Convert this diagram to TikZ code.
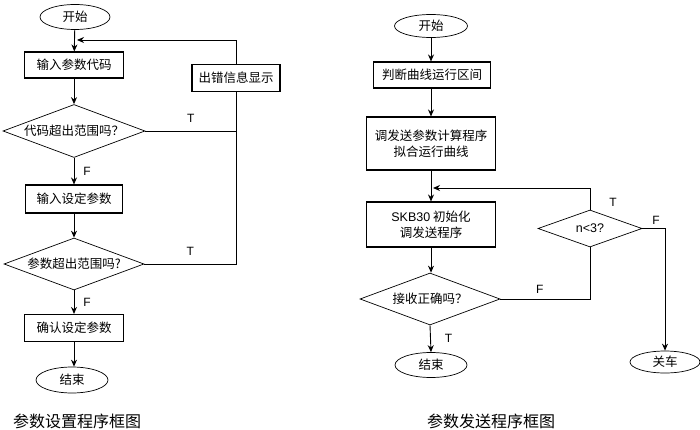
\documentclass[tikz,border=0pt]{standalone}
\usepackage{fontspec}
\setmainfont{Noto Sans CJK SC}
\newfontfamily\lat{Liberation Sans}
\usetikzlibrary{shapes.geometric,arrows.meta}
\begin{document}
\begin{tikzpicture}[x=1pt,y=-1pt,
  line width=0.9pt,
  every node/.style={font=\fontsize{12.5}{16}\selectfont, inner sep=0pt, align=center},
  term/.style={draw, ellipse, line width=0.7pt},
  procbox/.style={draw, rectangle, line width=1.1pt},
  decision/.style={draw, diamond, line width=0.7pt, inner sep=-3pt},
  arr/.style={-{Stealth[length=7pt,width=6pt]}},
  lbl/.style={font=\lat\fontsize{12}{14}\selectfont},
  captext/.style={font=\fontsize{16}{18}\selectfont}
]
\useasboundingbox (0,0) rectangle (700,430);
\fill[white] (0,0) rectangle (700,430);

% ---------- left chart ----------
\node[term, minimum width=70pt, minimum height=25pt] (s1) at (75,17) {开始};
\node[procbox, minimum width=99pt, minimum height=26pt] (b1) at (74,65) {输入参数代码};
\node[decision, aspect=2.68, minimum width=142pt, minimum height=53pt] (d1) at (74,131) {代码超出范围吗？};
\node[procbox, minimum width=97pt, minimum height=28pt] (b2) at (74,199) {输入设定参数};
\node[decision, aspect=2.68, minimum width=140pt, minimum height=52pt] (d2) at (74,264) {参数超出范围吗?};
\node[procbox, minimum width=99pt, minimum height=27pt] (b3) at (74,328) {确认设定参数};
\node[term, minimum width=72pt, minimum height=26pt] (e1) at (72,380) {结束};
\node[procbox, minimum width=88pt, minimum height=27pt] (err) at (236,78) {出错信息显示};

\coordinate (j1) at (77,40);
\coordinate (c1) at (236,131);
\coordinate (c2) at (236,264);

\draw[arr] (s1) -- (b1);
\draw[arr] (err.north) |- (j1);
\draw[arr] (b1) -- (d1);
\draw (d1.east) -- node[lbl, above=8pt, pos=0.5] {T} (c1);
\draw (err.south) -- (c2) -- node[lbl, above=8pt, pos=0.5] {T} (d2.east);
\draw[arr] (d1.south) -- node[lbl, right=9pt] {F} (b2.north);
\draw[arr] (b2) -- (d2);
\draw[arr] (d2.south) -- node[lbl, right=9pt] {F} (b3.north);
\draw[arr] (b3.south) -- (b3.south |- e1.north);

\node[captext] (cap1) at (77,421) {参数设置程序框图};

% ---------- right chart ----------
\node[term, minimum width=73pt, minimum height=23pt] (s2) at (431,26) {开始};
\node[procbox, minimum width=117pt, minimum height=26pt] (r1) at (432,75) {判断曲线运行区间};
\node[procbox, minimum width=129pt, minimum height=53pt] (r2) at (431,143.5) {调发送参数计算程序\\拟合运行曲线};
\node[procbox, minimum width=129pt, minimum height=45pt] (r3) at (431,224.5) {{\lat SKB30} 初始化\\调发送程序};
\node[decision, aspect=2.7, minimum width=140pt, minimum height=52pt] (rd) at (430,299) {接收正确吗？};
\node[decision, aspect=2.8, minimum width=104pt, minimum height=37pt] (nd) at (590,228.5) {{\lat n<3?}};
\node[term, minimum width=72pt, minimum height=25pt] (e2) at (431,365) {结束};
\node[term, minimum width=70pt, minimum height=22pt] (e3) at (665,362) {关车};

\coordinate (j2) at (433,188);
\coordinate (c3) at (665,228.5);

\draw[arr] (s2) -- (s2 |- r1.north);
\draw[arr] (r1.south -| s2) -- (s2 |- r2.north);
\draw[arr] (r2.south -| s2) -- (s2 |- r3.north);
\draw[arr] (nd.north) |- node[lbl, pos=0.16, right=19pt] {T} (j2);
\draw[arr] (r3.south -| s2) -- (s2 |- rd.north);
\draw (rd.east) -| node[lbl, pos=0.22, above=5pt] {F} (nd.south);
\draw[arr] (nd.east) -- node[lbl, pos=0.6, above=4pt] {F} (c3) -- (e3.north);
\draw[arr] (rd.south) -- node[lbl, pos=0.5, right=14pt] {T} (e2.north);

\node[captext] (cap2) at (491,421) {参数发送程序框图};
\end{tikzpicture}
\end{document}
